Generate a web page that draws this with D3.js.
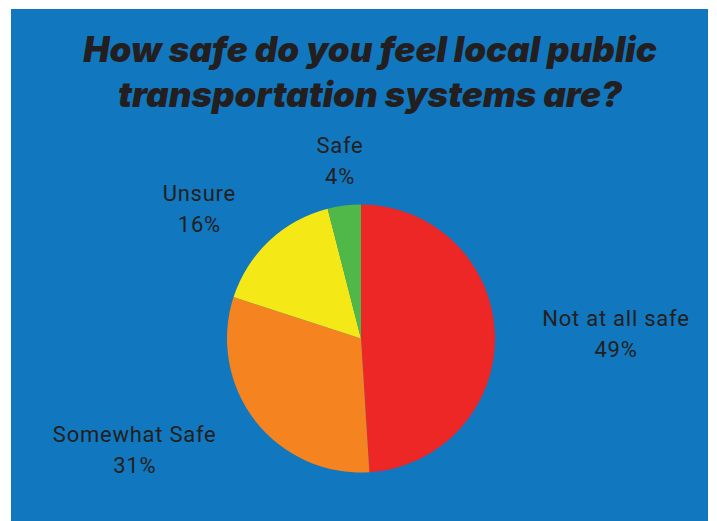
<!DOCTYPE html>
<html lang="en">
    <head>
        <meta charset="utf-8">
        <title>Transit Safety Pie</title>
        <script src="https://d3js.org/d3.v7.min.js"></script>
        <style type="text/css">
            body { margin: 0; background: #fff; }
            svg { display: block; }
        </style>
    </head>
    <body>
        <svg width="717" height="521"></svg>
        <script type="text/javascript">

            // data
            const categories = ["Not at all safe", "Somewhat Safe", "Unsure", "Safe"];
            const shares = [49, 31, 16, 4];
            const sliceColors = ["#ED2626", "#F5831F", "#F4E817", "#50B848"];
            const titleLines = ["How safe do you feel local public", "transportation systems are?"];

            const svg = d3.select("svg");
            const w = 717;
            const h = 521;

            // blue panel
            svg.append("rect")
               .attr("x", 11).attr("y", 9)
               .attr("width", 697).attr("height", h - 9)
               .attr("fill", "#1177BF");

            // title
            svg.selectAll("text.title")
               .data(titleLines)
               .enter()
               .append("text")
               .attr("class", "title")
               .attr("x", 370)
               .attr("y", (d, i) => 62 + i * 45)
               .attr("text-anchor", "middle")
               .style("font-family", "Inter, sans-serif")
               .style("font-weight", 900)
               .style("font-style", "italic")
               .style("font-size", "35px")
               .style("fill", "#231F20")
               .text(d => d);

            const cx = 361, cy = 338.5, radius = 134;

            const pie = d3.pie().sort(null).value(d => d);
            const arcs = pie(shares);

            const arc = d3.arc().innerRadius(0).outerRadius(radius);

            const g = svg.append("g").attr("transform", `translate(${cx},${cy})`);

            g.selectAll("path")
             .data(arcs)
             .enter()
             .append("path")
             .attr("d", arc)
             .style("fill", (d, i) => sliceColors[i]);

            // label placement: radius and angle nudge (degrees) per slice
            const labelRadius = [255, 252, 208, 180];
            const labelNudge = [0.6, 11.7, -7.8, 0.5];

            const labels = g.selectAll("g.label")
             .data(arcs)
             .enter()
             .append("g")
             .attr("class", "label")
             .attr("transform", (d, i) => {
                 const a = (d.startAngle + d.endAngle) / 2 + labelNudge[i] * Math.PI / 180;
                 const r = labelRadius[i];
                 return `translate(${r * Math.sin(a)},${-r * Math.cos(a)})`;
             });

            labels.append("text")
                  .attr("y", -7)
                  .text((d, i) => categories[i]);
            labels.append("text")
                  .attr("y", 24)
                  .text(d => d.data + "%");

            labels.selectAll("text")
                  .attr("text-anchor", "middle")
                  .style("font-family", "Roboto, sans-serif")
                  .style("font-size", "22px")
                  .style("letter-spacing", "0.75px")
                  .style("fill", "#231F20");

        </script>
    </body>
</html>
